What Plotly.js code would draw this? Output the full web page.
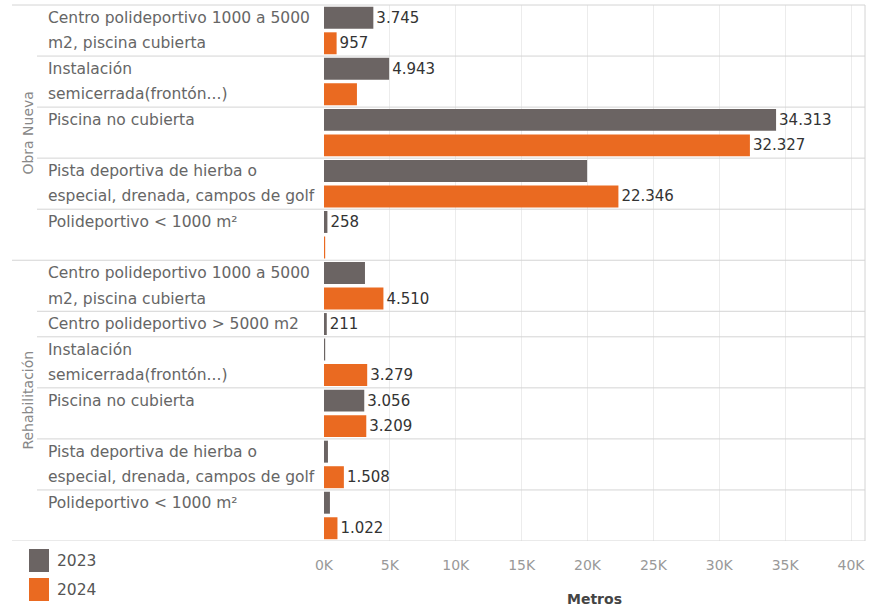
<!DOCTYPE html>
<html>
<head>
<meta charset="utf-8">
<script src="https://cdn.plot.ly/plotly-3.0.1.min.js"></script>
<style>html,body{margin:0;padding:0;background:#fff;}#chart{width:870px;height:609px;}</style>
</head>
<body>
<div id="chart"></div>
<script>
// ---- Data ----
const groupNames = ['Obra Nueva', 'Rehabilitación'];
const groupOf = [0, 0, 0, 0, 0, 1, 1, 1, 1, 1, 1];
const categories = [
  'Centro polideportivo 1000 a 5000<br>m2, piscina cubierta',
  'Instalación<br>semicerrada(frontón...)',
  'Piscina no cubierta',
  'Pista deportiva de hierba o<br>especial, drenada, campos de golf',
  'Polideportivo &lt; 1000 m²',
  'Centro polideportivo 1000 a 5000<br>m2, piscina cubierta',
  'Centro polideportivo &gt; 5000 m2',
  'Instalación<br>semicerrada(frontón...)',
  'Piscina no cubierta',
  'Pista deportiva de hierba o<br>especial, drenada, campos de golf',
  'Polideportivo &lt; 1000 m²'
];
const values2023 = [3745, 4943, 34313, 19970, 258, 3110, 211, 90, 3056, 300, 450];
const values2024 = [957, 2500, 32327, 22346, 90, 4510, null, 3279, 3209, 1508, 1022];
const labeled2023 = [true, true, true, false, true, false, true, false, true, false, false];
const labeled2024 = [true, false, true, true, false, true, false, true, true, true, true];
const seriesNames = ['2023', '2024'];
const seriesColors = ['#6b6463', '#ea6a21'];
const xTickVals = [0, 5000, 10000, 15000, 20000, 25000, 30000, 35000, 40000];
const xTickText = ['0K', '5K', '10K', '15K', '20K', '25K', '30K', '35K', '40K'];
const xTitle = 'Metros';

// ---- Layout helpers ----
const FONT = 'DejaVu Sans, sans-serif';
const W = 870, H = 609, L = 324, R = 865, T = 5, B = 541;
const px = x => (x - L) / (R - L);
const py = y => (B - y) / (B - T);
const fmt = v => String(v).replace(/\B(?=(\d{3})+(?!\d))/g, '.');

// slot allocation
const y23 = [], x23 = [], t23 = [], y24 = [], x24 = [], t24 = [];
const rows = [];
let slot = 0;
categories.forEach((c, i) => {
  const start = slot;
  if (values2023[i] != null) { y23.push(slot); x23.push(values2023[i]); t23.push(labeled2023[i] ? fmt(values2023[i]) : ''); slot++; }
  if (values2024[i] != null) { y24.push(slot); x24.push(values2024[i]); t24.push(labeled2024[i] ? fmt(values2024[i]) : ''); slot++; }
  rows.push({start, end: slot, group: groupOf[i], label: c});
});
const total = slot;

const annotations = [];
const shapes = [];
const lineColor = '#d4d4d4';

rows.forEach((r, i) => {
  r.label.split('<br>').forEach((line, j) => {
    annotations.push({xref: 'paper', yref: 'y', x: px(46), y: r.start + j, text: line,
      xanchor: 'left', yanchor: 'middle', showarrow: false,
      font: {family: FONT, size: 15.5, color: '#666'}});
  });
  const lastInGroup = (i === rows.length - 1) || rows[i + 1].group !== r.group;
  shapes.push({type: 'line', xref: 'paper', yref: 'y', x0: lastInGroup ? px(12) : px(37), x1: 1,
    y0: r.end - 0.5, y1: r.end - 0.5, line: {color: lineColor, width: 1}});
});
// top border
shapes.push({type: 'line', xref: 'paper', yref: 'paper', x0: px(12), x1: 1, y0: 1, y1: 1, line: {color: lineColor, width: 1}});
// right border
shapes.push({type: 'line', xref: 'paper', yref: 'paper', x0: 1, x1: 1, y0: 0, y1: 1, line: {color: lineColor, width: 1}});

groupNames.forEach((g, gi) => {
  const gr = rows.filter(r => r.group === gi);
  const mid = (gr[0].start + gr[gr.length - 1].end) / 2 - 0.5;
  annotations.push({xref: 'paper', yref: 'y', x: px(28), y: mid, text: g, textangle: -90,
    xanchor: 'center', yanchor: 'middle', showarrow: false,
    font: {family: FONT, size: 14, color: '#888'}});
});

// legend
seriesNames.forEach((s, k) => {
  const top = 549 + k * 29;
  shapes.push({type: 'rect', xref: 'paper', yref: 'paper', x0: px(29), x1: px(49), y0: py(top + 23), y1: py(top),
    fillcolor: seriesColors[k], line: {width: 0}});
  annotations.push({xref: 'paper', yref: 'paper', x: px(55), y: py(top + 12), text: s,
    xanchor: 'left', yanchor: 'middle', showarrow: false,
    font: {family: FONT, size: 15.5, color: '#555'}});
});

const barBase = {type: 'bar', orientation: 'h', width: 0.86, textposition: 'outside', cliponaxis: false,
  textfont: {family: FONT, size: 15, color: '#333'}, hoverinfo: 'x'};
const traces = [
  Object.assign({}, barBase, {name: seriesNames[0], x: x23, y: y23, text: t23, marker: {color: seriesColors[0]}}),
  Object.assign({}, barBase, {name: seriesNames[1], x: x24, y: y24, text: t24, marker: {color: seriesColors[1]}})
];

const layout = {
  width: W, height: H,
  margin: {l: L, r: W - R, t: T, b: H - B},
  paper_bgcolor: '#fff', plot_bgcolor: '#fff',
  showlegend: false,
  barmode: 'overlay',
  xaxis: {range: [0, 40000 * (R - L) / 527], tickvals: xTickVals, ticktext: xTickText,
    showgrid: true, gridcolor: '#ececec', zeroline: false, showline: false, ticks: '',
    ticklabelstandoff: 14,
    tickfont: {family: FONT, size: 14, color: '#999'},
    title: {text: xTitle, font: {family: FONT, size: 14, color: '#444', weight: 'bold'}, standoff: 22}},
  yaxis: {range: [total - 0.5, -0.5], showticklabels: false, showgrid: false, zeroline: false, showline: false},
  annotations, shapes,
  font: {family: FONT}
};

Plotly.newPlot('chart', traces, layout, {displayModeBar: false, staticPlot: true});
</script>
</body>
</html>
